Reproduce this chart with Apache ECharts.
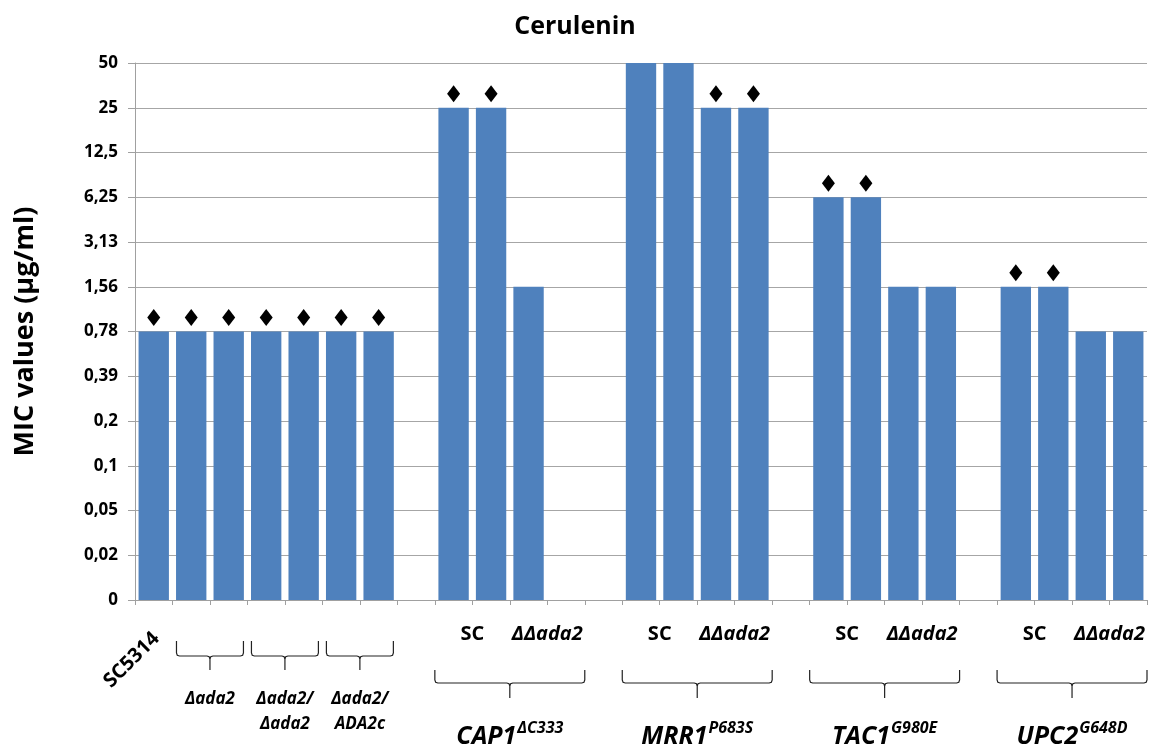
<!DOCTYPE html>
<html>
<head>
<meta charset="utf-8">
<script src="https://cdn.jsdelivr.net/npm/echarts@6/dist/echarts.min.js"></script>
<style>
  html, body { margin: 0; padding: 0; background: #fff; }
  #chart { width: 1150px; height: 747px; }
</style>
</head>
<body>
<div id="chart"></div>
<script>
// Doubling-dilution MIC scale (µg/ml), bottom to top, and its printed tick labels
const micLevels = [0, 0.02, 0.05, 0.1, 0.2, 0.39, 0.78, 1.56, 3.13, 6.25, 12.5, 25, 50];
const micLabels = ['0', '0,02', '0,05', '0,1', '0,2', '0,39', '0,78', '1,56', '3,13', '6,25', '12,5', '25', '50'];

// One slot per strain; the "gap" slots separate the strain groups
const slots = [
  'SC5314',
  'ada2-1', 'ada2-2', 'ada2/ada2-1', 'ada2/ada2-2', 'ada2/ADA2c-1', 'ada2/ADA2c-2',
  'gap1',
  'CAP1-SC-1', 'CAP1-SC-2', 'CAP1-dd-1', 'CAP1-dd-2',
  'gap2',
  'MRR1-SC-1', 'MRR1-SC-2', 'MRR1-dd-1', 'MRR1-dd-2',
  'gap3',
  'TAC1-SC-1', 'TAC1-SC-2', 'TAC1-dd-1', 'TAC1-dd-2',
  'gap4',
  'UPC2-SC-1', 'UPC2-SC-2', 'UPC2-dd-1', 'UPC2-dd-2'
];

// Cerulenin MIC per slot (µg/ml); null = empty spacer
const micValues = [
  0.78,
  0.78, 0.78, 0.78, 0.78, 0.78, 0.78,
  null,
  25, 25, 1.56, 0,
  null,
  50, 50, 25, 25,
  null,
  6.25, 6.25, 1.56, 1.56,
  null,
  1.56, 1.56, 0.78, 0.78
];

// Slots flagged with a diamond above the bar
const diamondFlags = [
  1,
  1, 1, 1, 1, 1, 1,
  0,
  1, 1, 0, 0,
  0,
  0, 0, 1, 1,
  0,
  1, 1, 0, 0,
  0,
  1, 1, 0, 0
];

// Small brackets under the Δada2 strains
const smallGroups = [
  { from: 1, to: 2, text: 'Δada2' },
  { from: 3, to: 4, text: 'Δada2/\nΔada2' },
  { from: 5, to: 6, text: 'Δada2/\nADA2c' }
];

// Gain-of-function backgrounds: SC pair followed by ΔΔada2 pair
const bigGroups = [
  { from: 8,  to: 11, gene: 'CAP1', allele: 'ΔC333' },
  { from: 13, to: 16, gene: 'MRR1', allele: 'P683S' },
  { from: 18, to: 21, gene: 'TAC1', allele: 'G980E' },
  { from: 23, to: 26, gene: 'UPC2', allele: 'G648D' }
];
const pairLabels = ['SC', 'ΔΔada2'];

const FONT = '"Open Sans", "Liberation Sans", sans-serif';
const levelIndex = v => micLevels.indexOf(v);

const chart = echarts.init(document.getElementById('chart'), null, { renderer: 'canvas' });

chart.setOption({
  animation: false,
  backgroundColor: '#ffffff',
  title: {
    text: 'Cerulenin',
    left: 'center',
    top: 9,
    textStyle: { fontFamily: FONT, fontSize: 25, fontWeight: 'bold', color: '#000' }
  },
  grid: { left: 135, right: 3, top: 63, bottom: 147, containLabel: false },
  xAxis: {
    type: 'category',
    data: slots,
    boundaryGap: true,
    axisLine: { show: true, lineStyle: { color: '#a0a0a0', width: 1 } },
    axisTick: { show: true, interval: 0, length: 5, lineStyle: { color: '#a0a0a0' } },
    axisLabel: { show: false },
    splitLine: { show: false }
  },
  yAxis: {
    type: 'value',
    min: 0,
    max: micLevels.length - 1,
    interval: 1,
    name: 'MIC values (µg/ml)',
    nameLocation: 'middle',
    nameRotate: 90,
    nameGap: 96,
    nameTextStyle: { fontFamily: FONT, fontSize: 27, fontWeight: 'bold', color: '#000' },
    axisLine: { show: true, lineStyle: { color: '#a0a0a0', width: 1 } },
    axisTick: { show: true, inside: false, length: 7, lineStyle: { color: '#a0a0a0' } },
    axisLabel: {
      formatter: v => micLabels[v],
      fontFamily: FONT, fontSize: 17, fontWeight: 'bold', color: '#000', margin: 17
    },
    splitLine: { show: true, lineStyle: { color: '#a6a6a6', width: 1 } }
  },
  series: [
    {
      type: 'bar',
      data: micValues.map(v => (v === null ? null : levelIndex(v))),
      barCategoryGap: '19%',
      itemStyle: { color: '#4F81BD', borderWidth: 0 }
    },
    {
      type: 'scatter',
      data: micValues.map((v, i) => (diamondFlags[i] && v !== null ? [i, levelIndex(v)] : [i, '-'])),
      symbol: 'diamond',
      symbolSize: [13, 17],
      symbolOffset: [0, -14],
      itemStyle: { color: '#000', opacity: 1 },
      z: 5
    }
  ]
});

// Annotations below the category axis, positioned from the axis scale
function slotX(i) { return chart.convertToPixel({ xAxisIndex: 0 }, i); }
const halfSlot = (slotX(1) - slotX(0)) / 2;

function bracket(x0, x1, yTop, yBar, yTip) {
  const xm = (x0 + x1) / 2, r = 3;
  const pts = [
    [x0, yTop], [x0, yBar - r], [x0 + 0.8, yBar - 0.8], [x0 + r, yBar],
    [xm - r, yBar], [xm - 0.8, yBar + 0.8], [xm, yBar + r], [xm, yTip],
    [xm, yBar + r], [xm + 0.8, yBar + 0.8], [xm + r, yBar],
    [x1 - r, yBar], [x1 - 0.8, yBar - 0.8], [x1, yBar - r], [x1, yTop]
  ];
  return {
    type: 'polyline',
    shape: { points: pts },
    style: { stroke: '#222', lineWidth: 1.2, fill: null },
    silent: true
  };
}

const graphics = [];

// Reference strain label, set at 45°
graphics.push({
  type: 'text',
  x: slotX(0) - 22, y: 660,
  rotation: Math.PI / 4,
  style: {
    text: 'SC5314',
    font: 'bold 20px ' + FONT,
    fill: '#000',
    align: 'center', verticalAlign: 'middle'
  }
});

smallGroups.forEach(g => {
  const x0 = slotX(g.from) - halfSlot + 4;
  const x1 = slotX(g.to) + halfSlot - 4;
  graphics.push(bracket(x0, x1, 641, 656, 670));
  graphics.push({
    type: 'text',
    x: (x0 + x1) / 2, y: 687,
    style: {
      text: g.text,
      font: 'italic bold 17px ' + FONT,
      lineHeight: 25,
      fill: '#000',
      align: 'center', verticalAlign: 'top'
    }
  });
});

bigGroups.forEach(g => {
  const x0 = slotX(g.from) - halfSlot;
  const x1 = slotX(g.to) + halfSlot;
  graphics.push(bracket(x0, x1, 670, 683, 698));
  // SC pair and ΔΔada2 pair labels
  [0, 1].forEach(k => {
    const a = slotX(g.from + 2 * k), b = slotX(g.from + 2 * k + 1);
    graphics.push({
      type: 'text',
      x: (a + b) / 2, y: 634,
      style: {
        text: pairLabels[k],
        font: (k === 1 ? 'italic ' : '') + 'bold 20px ' + FONT,
        fill: '#000',
        align: 'center', verticalAlign: 'middle'
      }
    });
  });
  graphics.push({
    type: 'text',
    x: (x0 + x1) / 2, y: 733,
    style: {
      text: '{g|' + g.gene + '}{a|' + g.allele + '}',
      align: 'center', verticalAlign: 'middle',
      rich: {
        g: { font: 'italic bold 25px ' + FONT, fill: '#000', lineHeight: 32, verticalAlign: 'bottom' },
        a: { font: 'italic bold 16px ' + FONT, fill: '#000', lineHeight: 32, verticalAlign: 'top', padding: [3, 0, 0, 1] }
      }
    }
  });
});

chart.setOption({ graphic: graphics });
</script>
</body>
</html>
